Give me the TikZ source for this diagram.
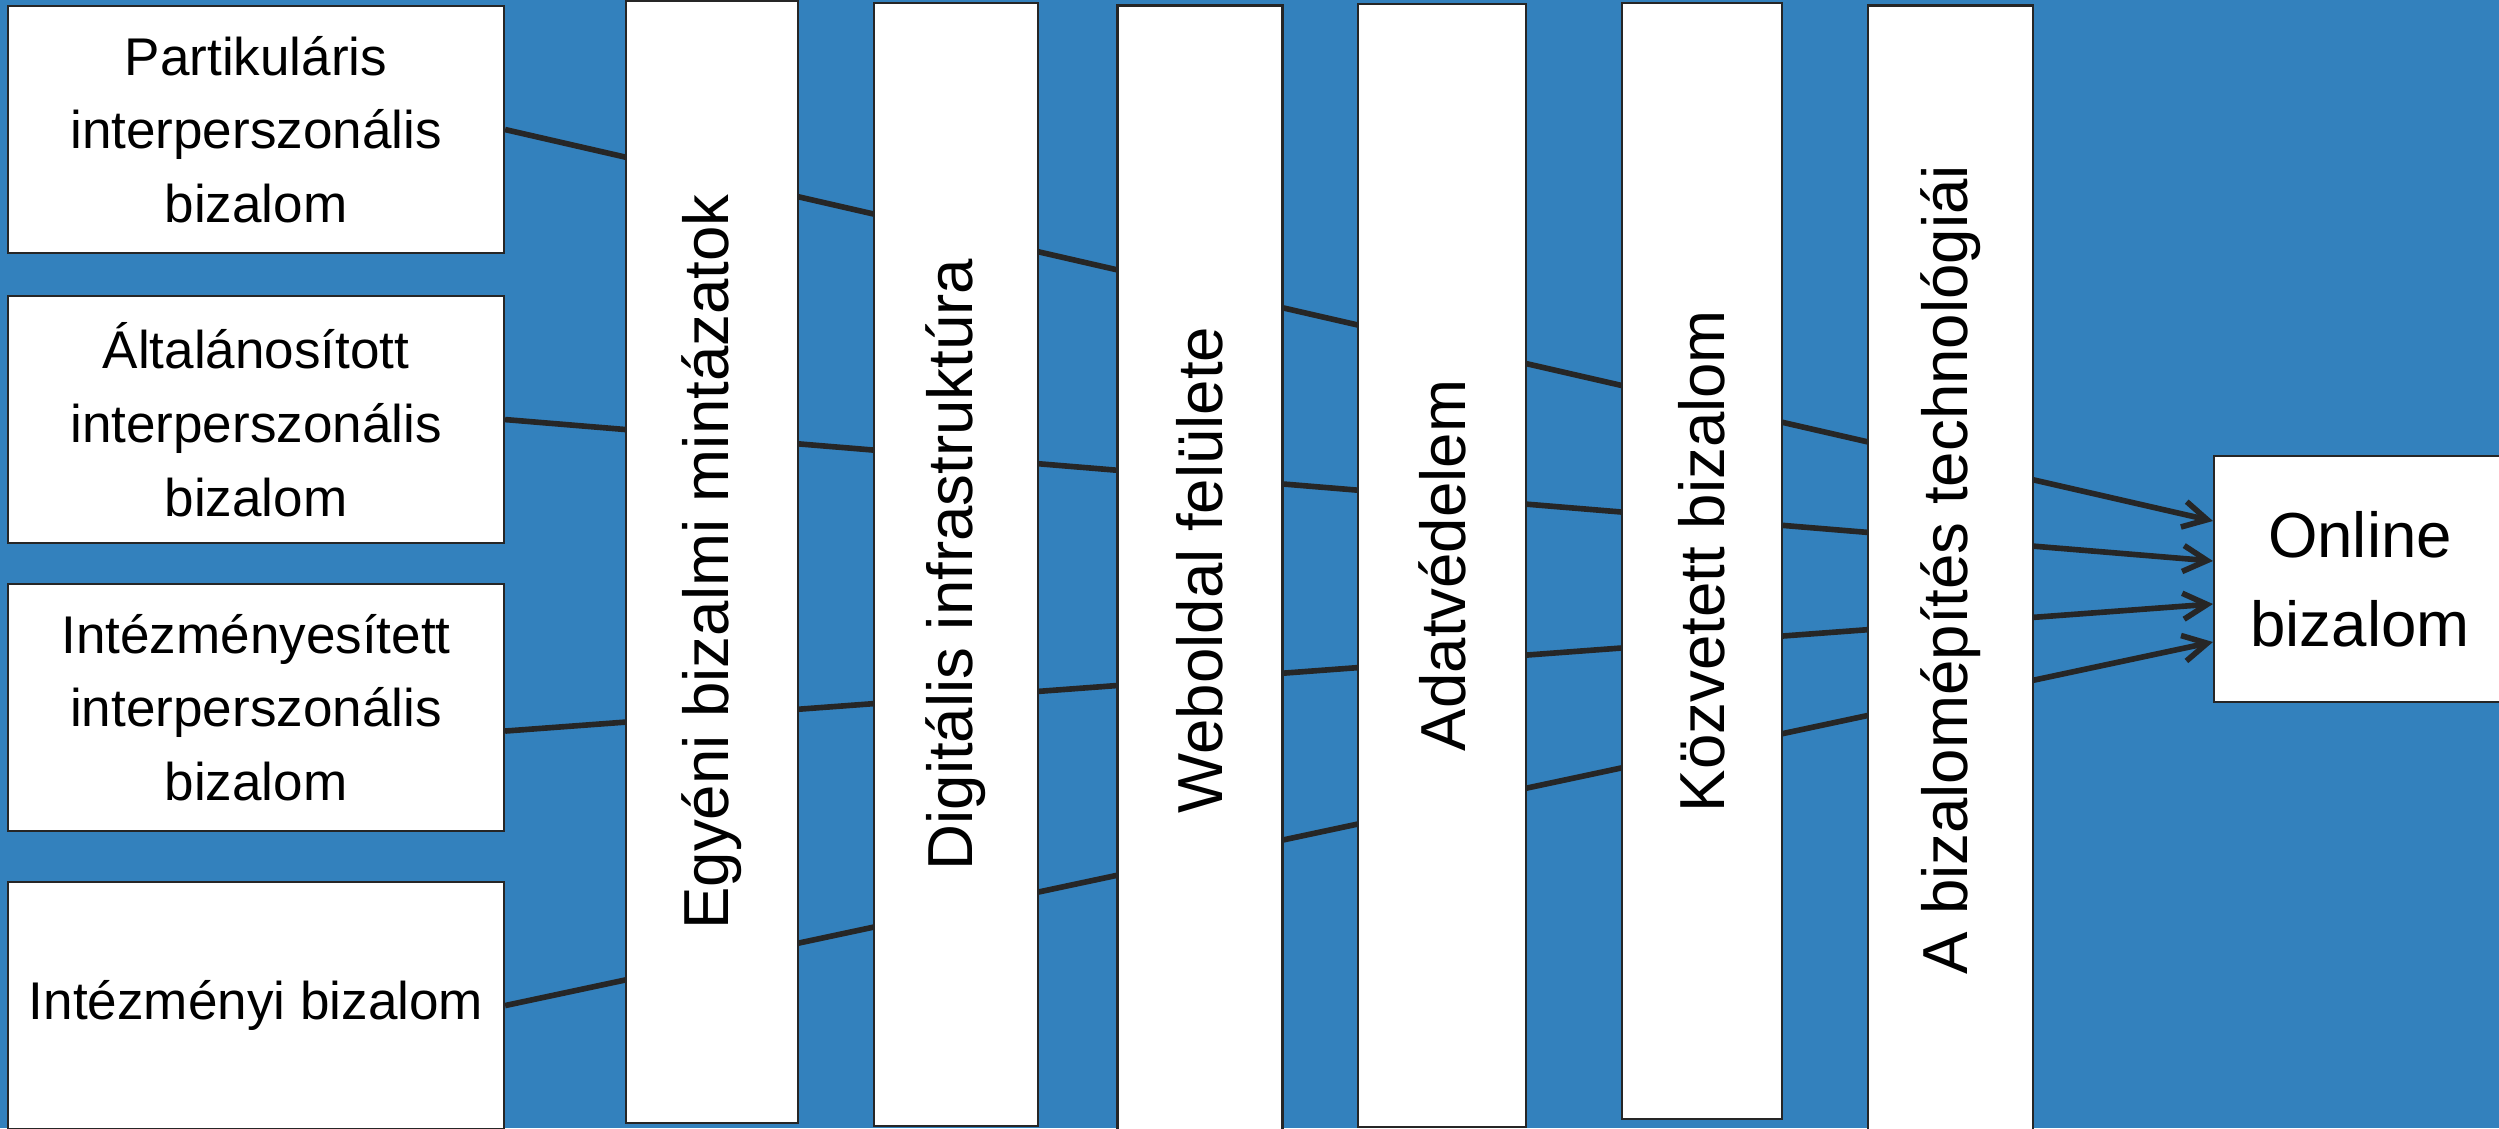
\documentclass[tikz,border=0pt]{standalone}
\usepackage{fontspec}
\setmainfont{Liberation Sans}
\usetikzlibrary{arrows.meta}
\definecolor{bgblue}{HTML}{3381BD}
\definecolor{linegray}{HTML}{262626}
\begin{document}
\begin{tikzpicture}[
        whitebox/.style={draw=linegray, line width=0.6pt, fill=white, align=center, inner sep=0pt},
        leftbox/.style={whitebox, anchor=north west, minimum width=4.96cm, minimum height=2.47cm,
            font=\fontsize{15.1pt}{20.97pt}\selectfont},
        colbox/.style={whitebox, rotate=90, font=\fontsize{18.1pt}{25.3pt}\selectfont},
        flow/.style={draw=linegray, line width=1.6pt},
        flowarrow/.style={flow, -{Straight Barb[length=2.4mm,width=2.6mm]}}
    ]
        \clip (0,0) rectangle (24.99,-11.28);
        \fill [bgblue] (0,0) rectangle (24.99,-11.28);

        \node [leftbox] (b1) at (0.07,-0.05) {Partikuláris\\interperszonális\\bizalom};
        \node [leftbox] (b2) at (0.07,-2.95) {Általánosított\\interperszonális\\bizalom};
        \node [leftbox] (b3) at (0.07,-5.83) {Intézményesített\\interperszonális\\bizalom};
        \node [leftbox] (b4) at (0.07,-8.81) {Intézményi bizalom};

        \node [whitebox, minimum width=2.92cm, minimum height=2.46cm,
            font=\fontsize{18.1pt}{25.3pt}\selectfont] (online) at (23.6,-5.79) {Online\\bizalom};

        \draw [flowarrow] (b1.east) -- ([yshift=0.58cm]online.west);
        \draw [flowarrow] (b2.east) -- ([yshift=0.18cm]online.west);
        \draw [flowarrow] ([yshift=-0.235cm]b3.east) -- ([yshift=-0.25cm]online.west);
        \draw [flowarrow] (b4.east) -- ([yshift=-0.63cm]online.west);

        \node [colbox, minimum width=11.22cm, minimum height=1.72cm] (c1) at (7.12,-5.62) {Egyéni bizalmi mintázatok};
        \node [colbox, minimum width=11.23cm, minimum height=1.64cm] (c2) at (9.56,-5.645) {Digitális infrastruktúra};
        \node [colbox, minimum width=11.29cm, minimum height=1.65cm] (c3) at (12.0,-5.70) {Weboldal felülete};
        \node [colbox, minimum width=11.23cm, minimum height=1.68cm] (c4) at (14.42,-5.654) {Adatvédelem};
        \node [colbox, minimum width=11.16cm, minimum height=1.60cm] (c5) at (17.016,-5.61) {Közvetett bizalom};
        \node [colbox, minimum width=11.29cm, minimum height=1.65cm] (c6) at (19.503,-5.70) {A bizalomépítés technológiái};
\end{tikzpicture}
\end{document}
